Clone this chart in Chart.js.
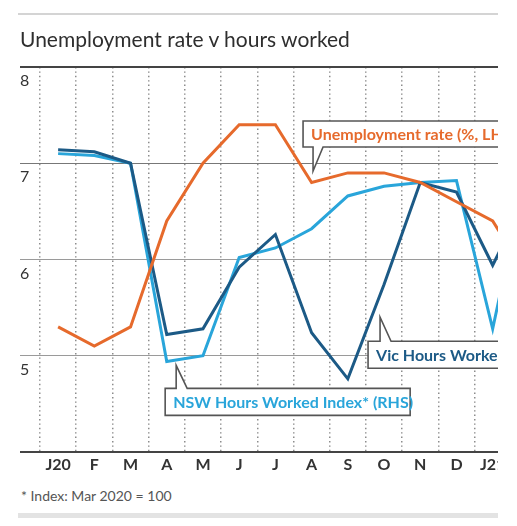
<!DOCTYPE html>
<html>
<head>
<meta charset="utf-8">
<script src="https://cdn.jsdelivr.net/npm/chart.js@4"></script>
<style>
  body { margin: 0; background: #fff; font-family: Lato, sans-serif; }
  #wrap { position: relative; width: 517px; height: 526px; }
  .rule-top { position: absolute; left: 18px; top: 13px; width: 480px; height: 2px; background: #d4d4d4; }
  .title { position: absolute; left: 20px; top: 27px; font-size: 21px; line-height: 24px; color: #2e2e2e; }
  .clip { position: absolute; left: 0; top: 0; width: 498px; height: 482px; overflow: hidden; }
  .note { position: absolute; left: 21px; top: 487px; font-size: 14px; line-height: 18px; color: #555; }
  .rule-bottom { position: absolute; left: 18px; top: 513px; width: 480px; height: 5px; background: #e3e3e3; }
</style>
</head>
<body>
<div id="wrap">
  <div class="rule-top"></div>
  <div class="clip"><canvas id="chart" width="560" height="482"></canvas></div>
  <div class="title">Unemployment rate v hours worked</div>
  <div class="note">* Index: Mar 2020 = 100</div>
  <div class="rule-bottom"></div>
</div>
<script>
// Data (Jan 2020 - Feb 2021)
const months = ['J20', 'F', 'M', 'A', 'M', 'J', 'J', 'A', 'S', 'O', 'N', 'D', 'J21', 'F'];
const unemployment = [5.3, 5.1, 5.3, 6.4, 7.0, 7.4, 7.4, 6.8, 6.9, 6.9, 6.8, 6.6, 6.4, 5.8];
const vicHours = [100.7, 100.6, 100.0, 91.1, 91.4, 94.6, 96.3, 91.2, 88.8, 93.7, 99.0, 98.5, 94.7, 98.5];
const nswHours = [100.5, 100.4, 100.0, 89.7, 90.0, 95.1, 95.6, 96.6, 98.3, 98.8, 99.0, 99.1, 91.4, 100.2];

const ORANGE = '#e66a2c';
const DARK_BLUE = '#1c5a86';
const LIGHT_BLUE = '#29a5da';

// Callout boxes: tip anchored in data coords, box offset in px from the tip
const callouts = [
  { text: 'Unemployment rate (%, LHS)', color: ORANGE, axis: 'y', at: [7.04, 6.92], box: [-10, -50, 300, 26], side: 'bottom' },
  { text: 'Vic Hours Worked Index* (RHS)', color: DARK_BLUE, axis: 'y1', at: [8.89, 92.0], box: [-12, 24, 260, 27], side: 'top' },
  { text: 'NSW Hours Worked Index* (RHS)', color: LIGHT_BLUE, axis: 'y1', at: [3.26, 89.5], box: [-11, 23, 245, 27], side: 'top' }
];

const calloutPlugin = {
  id: 'callouts',
  afterDatasetsDraw: (chart) => {
    const { ctx, scales } = chart;
    callouts.forEach(c => {
      const tx = scales.x.getPixelForValue(c.at[0]);
      const ty = scales[c.axis].getPixelForValue(c.at[1]);
      const [bx, by, bw, bh] = c.box;
      const L = tx + bx, T = ty + by, R = L + bw, B = T + bh;
      ctx.save();
      ctx.beginPath();
      if (c.side === 'bottom') {
        ctx.moveTo(L, T); ctx.lineTo(R, T); ctx.lineTo(R, B);
        ctx.lineTo(tx + 10, B); ctx.lineTo(tx, ty); ctx.lineTo(tx, B); ctx.lineTo(L, B);
      } else {
        ctx.moveTo(L, B); ctx.lineTo(L, T); ctx.lineTo(tx, T); ctx.lineTo(tx, ty);
        ctx.lineTo(tx + 11, T); ctx.lineTo(R, T); ctx.lineTo(R, B);
      }
      ctx.closePath();
      ctx.fillStyle = '#fff';
      ctx.fill();
      ctx.lineWidth = 1.6;
      ctx.strokeStyle = '#555';
      ctx.stroke();
      ctx.font = 'bold 16px Lato';
      ctx.fillStyle = c.color;
      ctx.textAlign = 'left';
      ctx.textBaseline = 'middle';
      ctx.fillText(c.text, L + 8, (T + B) / 2 + 1);
      ctx.restore();
    });
  }
};

Chart.defaults.font.family = 'Lato';

new Chart(document.getElementById('chart'), {
  type: 'line',
  data: {
    labels: months,
    datasets: [
      { label: 'Unemployment rate', data: unemployment, yAxisID: 'y', borderColor: ORANGE },
      { label: 'Vic Hours Worked Index', data: vicHours, yAxisID: 'y1', borderColor: DARK_BLUE },
      { label: 'NSW Hours Worked Index', data: nswHours, yAxisID: 'y1', borderColor: LIGHT_BLUE }
    ]
  },
  options: {
    responsive: false,
    animation: false,
    layout: { padding: { left: 20, top: 67, right: 13, bottom: 0 } },
    elements: {
      line: { borderWidth: 3, tension: 0, fill: false },
      point: { radius: 0 }
    },
    plugins: { legend: { display: false }, tooltip: { enabled: false } },
    scales: {
      x: {
        offset: true,
        grid: { offset: true, drawTicks: false, color: '#8c8c8c', lineWidth: 1.5 },
        border: { display: false, dash: [1.4, 3] },
        ticks: { padding: 3, color: '#333', font: { size: 16, weight: 'bold' }, maxRotation: 0, autoSkip: false },
        afterFit: (s) => { s.height = 30; }
      },
      y: {
        position: 'left',
        min: 4,
        max: 8,
        ticks: {
          stepSize: 1,
          padding: 0,
          labelOffset: 14,
          crossAlign: 'far',
          color: '#333',
          font: { size: 16 },
          callback: (v) => v === 4 ? '' : v
        },
        grid: {
          tickLength: 20,
          color: (c) => (c.tick.value === 8 || c.tick.value === 4) ? '#444' : (c.tick.value === 7 ? '#777' : '#9a9a9a'),
          lineWidth: (c) => (c.tick.value === 8 || c.tick.value === 4) ? 2 : 1
        },
        border: { display: false },
        afterFit: (s) => { s.width = 20; }
      },
      y1: { display: false, min: 85, max: 105 }
    }
  },
  plugins: [calloutPlugin]
});
</script>
</body>
</html>
